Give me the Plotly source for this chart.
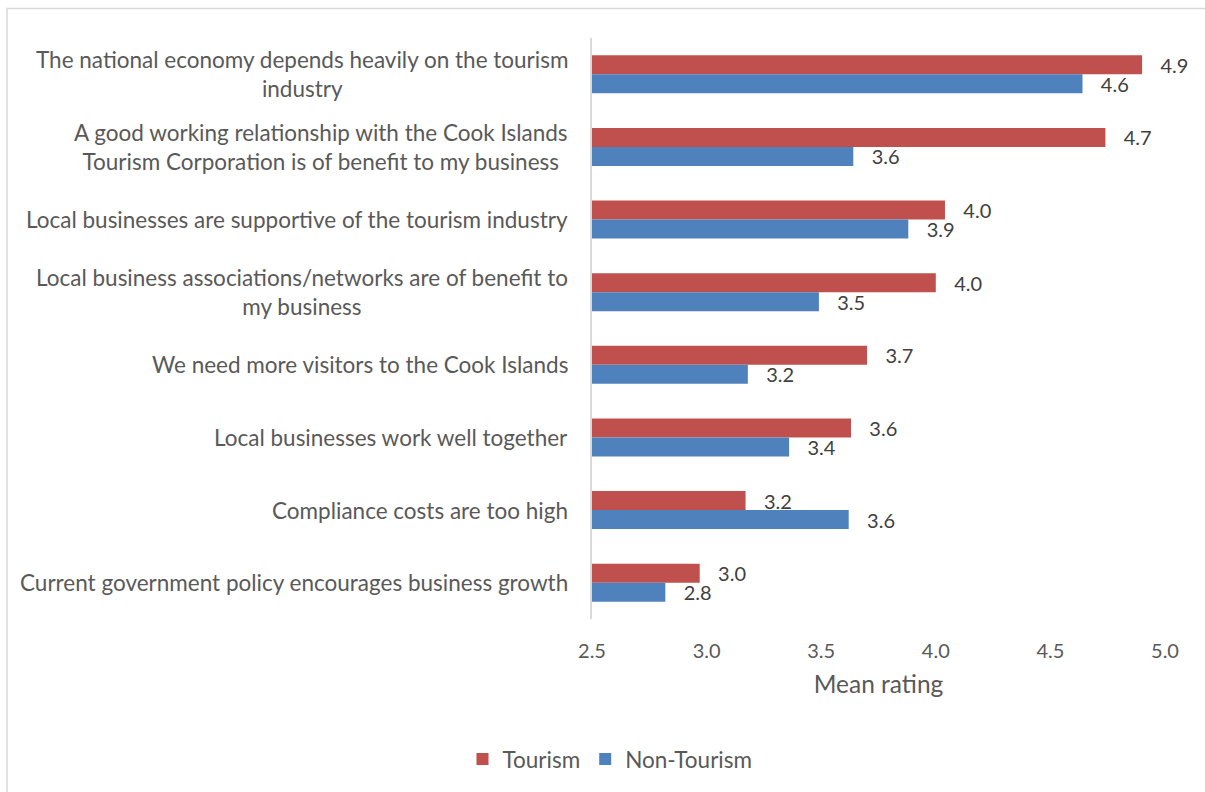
import plotly.graph_objects as go

# Survey statements (line breaks mark where each label wraps)
statements = [
    "The national economy depends heavily on the tourism\nindustry",
    "A good working relationship with the Cook Islands\nTourism Corporation is of benefit to my business",
    "Local businesses are supportive of the tourism industry",
    "Local business associations/networks are of benefit to\nmy business",
    "We need more visitors to the Cook Islands",
    "Local businesses work well together",
    "Compliance costs are too high",
    "Current government policy encourages business growth",
]

# Mean ratings per group
tourism = [4.90, 4.74, 4.04, 4.00, 3.70, 3.63, 3.17, 2.97]
non_tourism = [4.64, 3.64, 3.88, 3.49, 3.18, 3.36, 3.62, 2.82]

x_ticks = [2.5, 3.0, 3.5, 4.0, 4.5, 5.0]

FONT = "Lato, 'Open Sans', sans-serif"
RED = "#C0504D"
BLUE = "#4F81BD"
GREY_TEXT = "#595959"

cats = [s.replace("\n", " ") for s in statements]

fig = go.Figure()
for name, vals, color in [("Tourism", tourism, RED), ("Non-Tourism", non_tourism, BLUE)]:
    fig.add_trace(go.Bar(
        name=name,
        y=cats,
        x=vals,
        orientation="h",
        marker=dict(color=color, line=dict(width=0)),
        texttemplate="\u00a0\u00a0\u00a0%{x:.1f}",
        textposition="outside",
        textfont=dict(family=FONT, size=20, color="#404040"),
        constraintext="none",
        cliponaxis=False,
    ))

# Statement labels, centred within each wrapped block and right-aligned to the axis
for label, cat in zip(statements, cats):
    fig.add_annotation(
        xref="paper", yref="y", x=0, y=cat,
        xanchor="right", yanchor="middle", xshift=-22,
        align="center", showarrow=False,
        text=label.replace("\n", "<br>"),
        font=dict(family=FONT, size=22.5, color=GREY_TEXT),
    )

# Light outer frame of the chart area
fig.add_shape(
    type="rect", xref="paper", yref="paper",
    x0=(7 - 592) / 573, x1=(1230 - 592) / 573,
    y0=(619.4 - 820) / 581.8, y1=(619.4 - 8) / 581.8,
    line=dict(color="#D9D9D9", width=1.5), fillcolor="rgba(0,0,0,0)",
    layer="below",
)

fig.update_layout(
    width=1205, height=792,
    margin=dict(l=592, r=40, t=37.6, b=172.6, autoexpand=False),
    paper_bgcolor="white", plot_bgcolor="white",
    barmode="group", bargap=0.477, bargroupgap=0,
    font=dict(family=FONT, size=20, color=GREY_TEXT),
    showlegend=True,
    legend=dict(
        orientation="h", x=(610 - 592) / 573, xanchor="center",
        y=(619.4 - 760) / 581.8, yanchor="middle",
        font=dict(family=FONT, size=22.5, color=GREY_TEXT),
        itemwidth=30,
    ),
    xaxis=dict(
        range=[2.5, 5.0], tickvals=x_ticks, ticktext=[f"{v:.1f}" for v in x_ticks],
        showgrid=False, zeroline=False, showline=False, ticks="",
        ticklabelstandoff=18,
        tickfont=dict(family=FONT, size=20, color=GREY_TEXT),
        title=dict(text="Mean rating", standoff=14,
                   font=dict(family=FONT, size=24.5, color=GREY_TEXT)),
    ),
    yaxis=dict(
        autorange="reversed", showticklabels=False, showgrid=False, zeroline=False,
        showline=True, linecolor="#D9D9D9", linewidth=1.5, ticks="",
    ),
)

fig.write_html("out.html")
